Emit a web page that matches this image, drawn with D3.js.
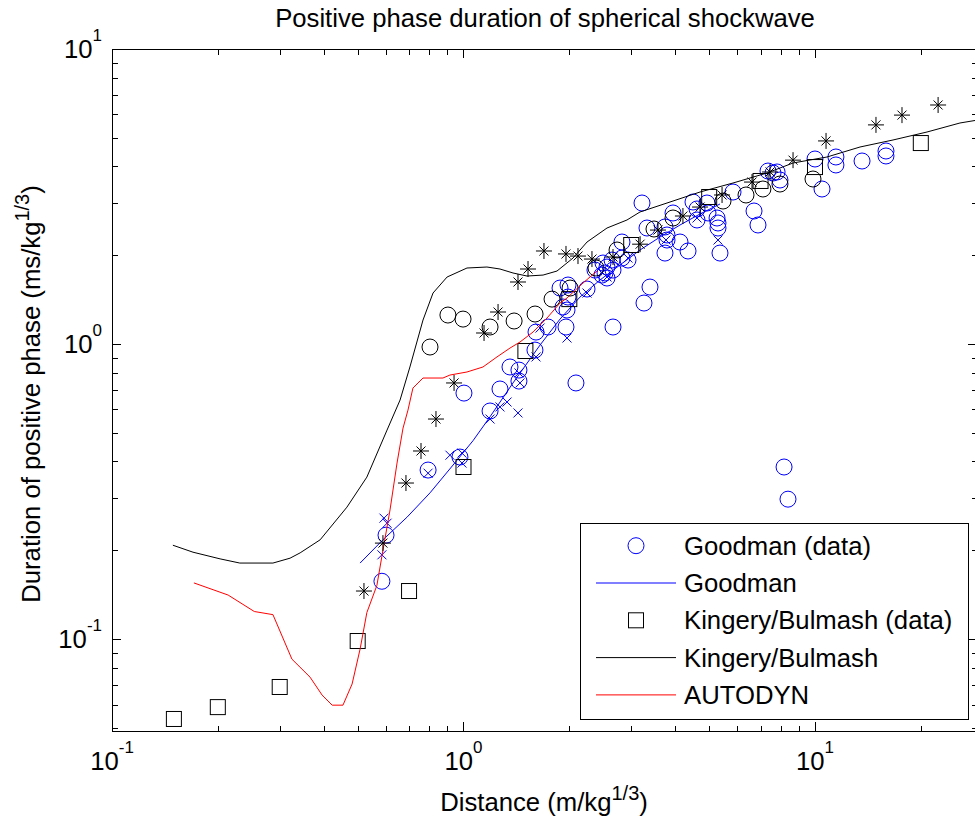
<!DOCTYPE html>
<html>
<head>
<meta charset="utf-8">
<script src="https://cdn.jsdelivr.net/npm/d3@7"></script>
<style>
  body { margin: 0; background: #fff; }
  svg { display: block; font-family: "Liberation Sans", Arial, sans-serif; }
</style>
</head>
<body>
<div id="container"></div>
<script>
// ---- data (x: m/kg^1/3, y: ms/kg^1/3) ----
const chartTitle = "Positive phase duration of spherical shockwave";
const xTickExps = [-1, 0, 1];
const yTickExps = [-1, 0, 1];
const legendLabels = ["Goodman (data)", "Goodman", "Kingery/Bulmash (data)", "Kingery/Bulmash", "AUTODYN"];

// Goodman measurements (blue circles)
const goodmanData = [
  [0.586, 0.157], [0.602, 0.225], [0.793, 0.374], [0.977, 0.414], [1.003, 0.682],
  [1.19, 0.593], [1.27, 0.704], [1.356, 0.836], [1.438, 0.816], [1.438, 0.749],
  [1.597, 0.954], [1.608, 1.098], [1.74, 1.142], [1.957, 1.142], [2.089, 0.738],
  [2.663, 1.142], [3.262, 1.377], [3.393, 1.56], [1.882, 1.548], [1.919, 1.335],
  [1.97, 1.304], [1.983, 1.585], [1.983, 1.443], [2.246, 1.536], [2.366, 1.781],
  [2.494, 1.882], [2.527, 1.741], [2.56, 1.674], [2.663, 1.781], [2.824, 1.956],
  [2.824, 2.217], [2.938, 1.926], [2.646, 1.926], [2.56, 1.824], [2.477, 1.713],
  [3.22, 3.006], [3.327, 2.473], [3.743, 2.493], [3.793, 2.342], [3.793, 2.252],
  [3.743, 2.034], [3.945, 2.781], [4.13, 2.217], [4.353, 2.067], [4.497, 3.03],
  [4.617, 2.869], [4.617, 2.633], [4.928, 3.006], [4.961, 2.781], [5.264, 2.674],
  [5.297, 2.572], [5.297, 2.473], [5.367, 2.034], [5.845, 3.275], [6.707, 2.824],
  [6.884, 2.532], [7.35, 3.858], [7.596, 3.799], [7.8, 3.83], [7.95, 3.597],
  [10.0, 4.238], [10.47, 3.353], [11.47, 4.305], [11.47, 4.045], [13.61, 4.172],
  [15.92, 4.511], [15.92, 4.339], [8.165, 0.383], [8.379, 0.298]
];
// Goodman measurements (blue crosses)
const goodmanCross = [
  [0.594, 0.257], [0.606, 0.247], [0.586, 0.193], [0.793, 0.365], [0.915, 0.42],
  [0.99, 0.427], [0.99, 0.395], [1.19, 0.557], [1.27, 0.612], [1.33, 0.636],
  [1.429, 0.584], [1.448, 0.738], [1.438, 0.798], [1.608, 0.904], [1.651, 1.133],
  [1.97, 1.048], [2.246, 1.489], [2.56, 1.687], [2.938, 1.956], [3.768, 2.252],
  [4.617, 2.674], [5.297, 2.252]
];
const goodmanLine = [
  [0.508, 0.181], [0.59, 0.217], [0.691, 0.259], [0.803, 0.313], [0.934, 0.389],
  [1.064, 0.47], [1.19, 0.567], [1.383, 0.738], [1.651, 0.992], [1.882, 1.215],
  [2.145, 1.443], [2.445, 1.648], [2.787, 1.853], [3.178, 2.083], [3.624, 2.305],
  [4.13, 2.532], [4.708, 2.759], [5.367, 2.983]
];
const kingeryData = [
  [0.15, 0.0536], [0.2, 0.0588], [0.3, 0.0688], [0.5, 0.0985], [0.7, 0.1455],
  [1, 0.383], [1.5, 0.947], [2, 1.42], [3, 2.166], [5, 3.15], [7, 3.57],
  [10, 3.98], [20, 4.8]
];
const kingeryLine = [
  [0.149, 0.208], [0.17, 0.197], [0.203, 0.187], [0.231, 0.181], [0.287, 0.181],
  [0.321, 0.188], [0.343, 0.196], [0.391, 0.217], [0.466, 0.28], [0.531, 0.354],
  [0.606, 0.511], [0.66, 0.646], [0.704, 0.836], [0.767, 1.206], [0.819, 1.489],
  [0.898, 1.687], [1.023, 1.81], [1.166, 1.824], [1.27, 1.796], [1.383, 1.741],
  [1.516, 1.7], [1.684, 1.713], [1.845, 1.768], [2.049, 1.956], [2.246, 2.217],
  [2.56, 2.473], [2.918, 2.633], [3.178, 2.803], [3.793, 3.006], [4.708, 3.275],
  [5.845, 3.514], [7.3, 3.799], [8.66, 4.108], [10.82, 4.305], [13.43, 4.654],
  [16.67, 4.916], [20.83, 5.232], [25.85, 5.613], [31.48, 5.837]
];
const autodynLine = [
  [0.171, 0.155], [0.214, 0.141], [0.254, 0.124], [0.287, 0.121], [0.325, 0.0855],
  [0.366, 0.0743], [0.396, 0.0646], [0.423, 0.0597], [0.454, 0.0597], [0.482, 0.0704],
  [0.508, 0.0925], [0.531, 0.123], [0.567, 0.152], [0.59, 0.2], [0.618, 0.274],
  [0.647, 0.395], [0.673, 0.519], [0.695, 0.597], [0.718, 0.709], [0.767, 0.767],
  [0.874, 0.767], [0.915, 0.785], [1.023, 0.804], [1.136, 0.836], [1.245, 0.904],
  [1.356, 0.969], [1.448, 1.016], [1.577, 1.098], [1.728, 1.225], [1.882, 1.377],
  [1.97, 1.432], [2.188, 1.61], [2.398, 1.768]
];
// other measurements (black circles, black asterisks)
const otherCircles = [
  [0.803, 0.977], [0.903, 1.254], [0.997, 1.215], [1.19, 1.142], [1.393, 1.197],
  [1.598, 1.264], [1.786, 1.42], [2.01, 1.548], [2.382, 1.81], [2.734, 2.083],
  [3.483, 2.454], [3.945, 2.674], [5.474, 3.053], [6.364, 3.2], [7.11, 3.353],
  [7.95, 3.486], [9.87, 3.625]
];
const otherStars = [
  [0.521, 0.1455], [0.59, 0.2115], [0.686, 0.338], [0.757, 0.434], [0.835, 0.557],
  [0.94, 0.738], [1.144, 1.09], [1.254, 1.284], [1.429, 1.623], [1.526, 1.796],
  [1.694, 2.067], [1.957, 2.02], [2.117, 1.987], [2.32, 1.941], [2.663, 1.972],
  [3.18, 2.18], [3.575, 2.434], [4.21, 2.716], [4.71, 2.913], [5.44, 3.2],
  [6.62, 3.54], [7.45, 3.83], [8.66, 4.2], [10.75, 4.88], [14.91, 5.53],
  [17.68, 5.97], [22.4, 6.46]
];

// ---- layout ----
const width = 975, height = 819;
const plotLeft = 112, plotRight = 977, plotTop = 49, plotBottom = 731;
const fontSize = 25.7;

const svg = d3.select("#container").append("svg")
  .attr("width", width).attr("height", height);

const x = d3.scaleLog().domain([0.1, 28.9]).range([plotLeft, plotRight]);
const y = d3.scaleLog().domain([0.0488, 10]).range([plotBottom, plotTop]);

svg.append("defs").append("clipPath").attr("id", "plot")
  .append("rect").attr("x", plotLeft).attr("y", plotTop)
  .attr("width", plotRight - plotLeft).attr("height", plotBottom - plotTop);

// ticks (inward, MATLAB style)
const decade = (e) => Math.pow(10, e);
const xMajor = xTickExps.map(decade);
const yMajor = yTickExps.map(decade);
const xMinor = [];
[-1, 0, 1].forEach(e => d3.range(2, 10).forEach(k => {
  const v = k * decade(e); if (v <= x.domain()[1]) xMinor.push(v);
}));
const yMinor = [];
[-2, -1, 0].forEach(e => d3.range(2, 10).forEach(k => {
  const v = k * decade(e); if (v >= y.domain()[0]) yMinor.push(v);
}));

function tickGroup(axis, tx, ty) {
  const g = svg.append("g").attr("transform", `translate(${tx},${ty})`).call(axis);
  g.select(".domain").remove();
  g.selectAll(".tick line").attr("stroke", "#000").attr("shape-rendering", "crispEdges");
  g.selectAll(".tick text").remove();
  return g;
}
tickGroup(d3.axisBottom(x).tickValues(xMajor).tickSize(-9), 0, plotBottom);
tickGroup(d3.axisBottom(x).tickValues(xMinor).tickSize(-5.5), 0, plotBottom);
tickGroup(d3.axisTop(x).tickValues(xMajor).tickSize(-9), 0, plotTop);
tickGroup(d3.axisTop(x).tickValues(xMinor).tickSize(-5.5), 0, plotTop);
tickGroup(d3.axisLeft(y).tickValues(yMajor).tickSize(-9), plotLeft, 0);
tickGroup(d3.axisLeft(y).tickValues(yMinor).tickSize(-5.5), plotLeft, 0);
tickGroup(d3.axisRight(y).tickValues(yMajor).tickSize(-9), plotRight, 0);
tickGroup(d3.axisRight(y).tickValues(yMinor).tickSize(-5.5), plotRight, 0);

// axes box
svg.append("rect")
  .attr("x", plotLeft + 0.5).attr("y", plotTop + 0.5)
  .attr("width", plotRight - plotLeft).attr("height", plotBottom - plotTop)
  .attr("fill", "none").attr("stroke", "#000");

// tick labels 10^n
function powerLabel(text, e) {
  text.append("tspan").text("10");
  text.append("tspan").attr("dy", -17).attr("font-size", 17).text(e);
}
xTickExps.forEach(e => {
  svg.append("text")
    .attr("x", x(decade(e))).attr("y", 770)
    .attr("text-anchor", "middle").attr("font-size", fontSize)
    .call(t => powerLabel(t, e));
});
yTickExps.forEach(e => {
  svg.append("text")
    .attr("x", plotLeft - 10).attr("y", y(decade(e)) + 9)
    .attr("text-anchor", "end").attr("font-size", fontSize)
    .call(t => powerLabel(t, e));
});

// title and axis labels
svg.append("text")
  .attr("x", 545).attr("y", 27)
  .attr("text-anchor", "middle").attr("font-size", fontSize)
  .text(chartTitle);

const xLabel = svg.append("text")
  .attr("x", 544).attr("y", 811)
  .attr("text-anchor", "middle").attr("font-size", fontSize);
xLabel.append("tspan").text("Distance (m/kg");
xLabel.append("tspan").attr("dy", -11).attr("font-size", 20).text("1/3");
xLabel.append("tspan").attr("dy", 11).text(")");

const yLabel = svg.append("text")
  .attr("transform", `translate(40,394) rotate(-90)`)
  .attr("text-anchor", "middle").attr("font-size", fontSize);
yLabel.append("tspan").text("Duration of positive phase (ms/kg");
yLabel.append("tspan").attr("dy", -11).attr("font-size", 20).text("1/3");
yLabel.append("tspan").attr("dy", 11).text(")");

// ---- marks ----
const plot = svg.append("g").attr("clip-path", "url(#plot)");
const line = d3.line().x(d => x(d[0])).y(d => y(d[1]));

function circles(data, color) {
  plot.append("g").selectAll("circle").data(data).join("circle")
    .attr("cx", d => x(d[0])).attr("cy", d => y(d[1])).attr("r", 8)
    .attr("fill", "none").attr("stroke", color).attr("stroke-width", 1);
}
function crosses(data, color, s) {
  plot.append("g").selectAll("path").data(data).join("path")
    .attr("d", d => {
      const cx = x(d[0]), cy = y(d[1]);
      return `M${cx - s},${cy - s}L${cx + s},${cy + s}M${cx - s},${cy + s}L${cx + s},${cy - s}`;
    })
    .attr("fill", "none").attr("stroke", color).attr("stroke-width", 1);
}
function squares(data, color) {
  plot.append("g").selectAll("rect").data(data).join("rect")
    .attr("x", d => x(d[0]) - 7.5).attr("y", d => y(d[1]) - 7.5)
    .attr("width", 15).attr("height", 15)
    .attr("fill", "none").attr("stroke", color).attr("stroke-width", 1);
}
function stars(data, color) {
  plot.append("g").selectAll("path").data(data).join("path")
    .attr("d", d => {
      const cx = x(d[0]), cy = y(d[1]), a = 8, b = 4.5;
      return `M${cx - a},${cy}L${cx + a},${cy}M${cx},${cy - a}L${cx},${cy + a}` +
        `M${cx - b},${cy - b}L${cx + b},${cy + b}M${cx - b},${cy + b}L${cx + b},${cy - b}`;
    })
    .attr("fill", "none").attr("stroke", color).attr("stroke-width", 1);
}
function curve(data, color) {
  plot.append("path").datum(data).attr("d", line)
    .attr("fill", "none").attr("stroke", color).attr("stroke-width", 1);
}

circles(goodmanData, "#0000ff");
crosses(goodmanCross, "#0000ff", 4.5);
curve(goodmanLine, "#0000ff");
squares(kingeryData, "#000");
curve(kingeryLine, "#000");
curve(autodynLine, "#ff0000");
circles(otherCircles, "#000");
stars(otherStars, "#000");

// ---- legend ----
const legend = svg.append("g");
legend.append("rect")
  .attr("x", 580.5).attr("y", 523.5).attr("width", 388).attr("height", 196)
  .attr("fill", "#fff").attr("stroke", "#000");
const rowY = (i) => 545.7 + i * 37.3;
legendLabels.forEach((label, i) => {
  legend.append("text")
    .attr("x", 684).attr("y", rowY(i) + 9)
    .attr("font-size", fontSize).text(label);
});
legend.append("circle").attr("cx", 636).attr("cy", rowY(0)).attr("r", 8)
  .attr("fill", "none").attr("stroke", "#0000ff").attr("stroke-width", 1);
legend.append("rect").attr("x", 628.5).attr("y", rowY(2) - 7.5)
  .attr("width", 15).attr("height", 15)
  .attr("fill", "none").attr("stroke", "#000").attr("stroke-width", 1);
[[1, "#0000ff"], [3, "#000"], [4, "#ff0000"]].forEach(([i, c]) => {
  legend.append("line")
    .attr("x1", 596).attr("x2", 676).attr("y1", rowY(i)).attr("y2", rowY(i))
    .attr("stroke", c).attr("stroke-width", 1);
});
</script>
</body>
</html>
